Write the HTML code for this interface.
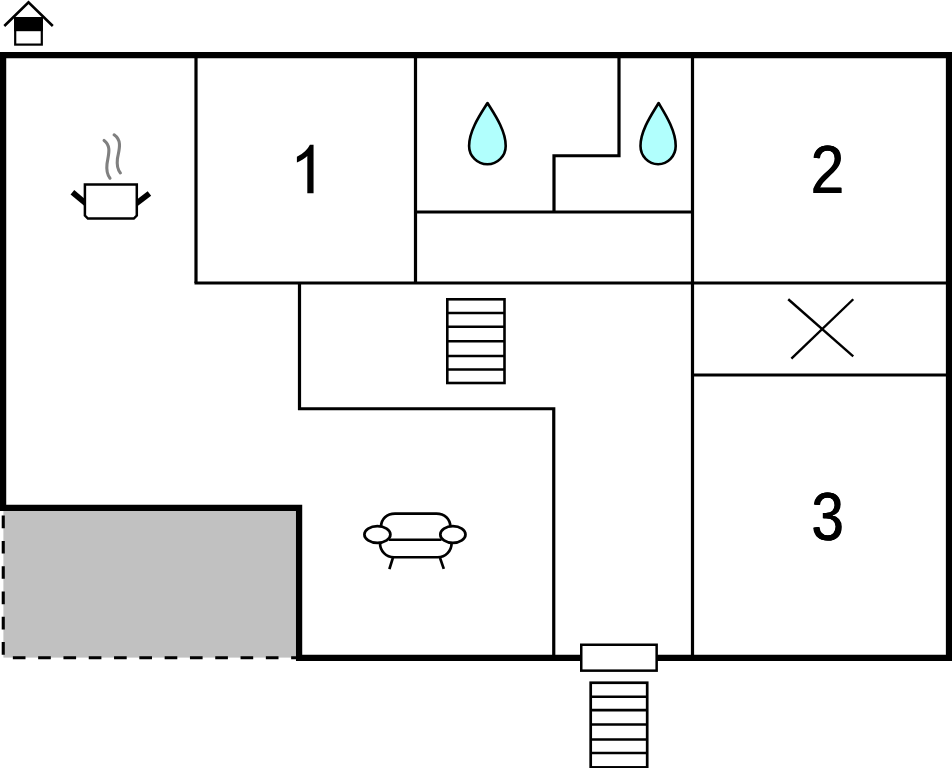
<!DOCTYPE html>
<html>
<head>
<meta charset="utf-8">
<title>Floor plan</title>
<style>
  html, body { margin: 0; padding: 0; background: #ffffff; }
  body { width: 952px; height: 768px; overflow: hidden; font-family: "Liberation Sans", sans-serif; }
  svg { display: block; position: absolute; left: 0; top: 0; }
  .num { font-family: "Liberation Sans", sans-serif; font-size: 69.6px; fill: #000; }
</style>
</head>
<body>
<svg width="952" height="768" viewBox="0 0 952 768">
  <rect x="0" y="0" width="952" height="768" fill="#ffffff"/>

  <!-- grey terrace -->
  <rect x="3.4" y="508" width="294" height="149.6" fill="#c1c1c1"/>
  <path d="M3.25 515.6 V657.8 H298" fill="none" stroke="#000" stroke-width="3.1" stroke-dasharray="12.65 12.65"/>

  <!-- inner walls -->
  <g fill="none" stroke="#000" stroke-width="3.2" stroke-linecap="butt" stroke-linejoin="miter">
    <path d="M196 56 V283"/>
    <path d="M194.5 283 H947"/>
    <path d="M415.5 56 V283"/>
    <path d="M415.5 212 H692.5"/>
    <path d="M619 56 V155.75 H554 V212"/>
    <path d="M692.5 56 V657"/>
    <path d="M692.5 375 H947"/>
    <path d="M299.5 283 V408.75 H553.75 V657"/>
  </g>

  <!-- outer wall -->
  <path d="M299.1 657.9 V507.9 H3.1 V55 H949 V657.9 Z" fill="none" stroke="#000" stroke-width="6.25" stroke-linejoin="miter"/>

  <!-- house icon -->
  <g>
    <rect x="15.2" y="18.2" width="26.6" height="26.4" fill="#fff" stroke="#000" stroke-width="2.2"/>
    <rect x="14.1" y="17.1" width="28.8" height="14.1" fill="#000"/>
    <path d="M4.3 26 L28.5 2.2 L52.8 26" fill="none" stroke="#000" stroke-width="2.6" stroke-linejoin="miter"/>
  </g>

  <!-- pot icon -->
  <g fill="none" stroke="#000">
    <path d="M72.4 192.2 L86 203.6" stroke-width="5.7" stroke-linecap="butt"/>
    <path d="M136 203.7 L149.4 193.5" stroke-width="5.7" stroke-linecap="butt"/>
    <path d="M84.9 184.6 H136.8 V215.6 L133.8 218.6 H87.9 L84.9 215.6 Z" stroke-width="2.5" fill="#fff"/>
    <path d="M104.1 140.4 C112 146 108 156 107 164 C106.3 170 107.5 175 110 178.2" stroke="#808080" stroke-width="3.1" stroke-linecap="round"/>
    <path d="M114.1 134.8 C123 141 118.5 151 117.4 159 C116.7 165 118 170 120.4 172.9" stroke="#808080" stroke-width="3.1" stroke-linecap="round"/>
  </g>

  <!-- water drops -->
  <g fill="#b1fffd" stroke="#000" stroke-width="2.6" stroke-linejoin="round">
    <path d="M487.5 103 C482 112 468.9 130 469.1 146 A18.3 18.3 0 0 0 505.7 146 C505.9 130 493 112 487.5 103 Z"/>
    <path d="M658.6 103 C653.4 112 640.3 130 640.5 146 A17.6 18.2 0 0 0 675.7 146 C675.9 130 663.9 112 658.6 103 Z"/>
  </g>

  <!-- indoor stairs -->
  <g fill="none" stroke="#000" stroke-width="2.6">
    <rect x="447.3" y="299.3" width="57.2" height="83.7" fill="#fff"/>
    <path d="M447.3 313 H504.5 M447.3 326.75 H504.5 M447.3 341.25 H504.5 M447.3 356 H504.5 M447.3 369.5 H504.5"/>
  </g>

  <!-- X mark -->
  <g fill="none" stroke="#000" stroke-width="2.4" stroke-linecap="butt">
    <path d="M788.25 299.25 L853.25 356.4"/>
    <path d="M853.25 299.25 L791.4 358.6"/>
  </g>

  <!-- sofa icon -->
  <g fill="none" stroke="#000" stroke-width="2.7" stroke-linecap="butt">
    <path d="M381 527 C381 519 387 513.6 395 513.6 H436.4 C444.4 513.6 450.4 519 450.4 527"/>
    <path d="M380 543 C380 551 386 557.25 394 557.25 H437.6 C445.6 557.25 451.6 551 451.6 543"/>
    <path d="M389 539.75 H441.5"/>
    <ellipse cx="377.4" cy="534.5" rx="13" ry="8.4" fill="#fff"/>
    <ellipse cx="452.9" cy="534.5" rx="12.6" ry="8.4" fill="#fff"/>
    <path d="M392.9 557.9 L389.4 569.1"/>
    <path d="M440 557.9 L443.8 568.9"/>
  </g>

  <!-- door -->
  <rect x="581.25" y="644.75" width="75.4" height="25.9" fill="#fff" stroke="#000" stroke-width="2.5"/>

  <!-- outdoor stairs -->
  <g fill="none" stroke="#000" stroke-width="2.7">
    <rect x="590.7" y="682.75" width="56.5" height="84.65" fill="#fff"/>
    <path d="M590.7 696.75 H647.2 M590.7 710.1 H647.2 M590.7 724.5 H647.2 M590.7 739.5 H647.2 M590.7 753 H647.2"/>
  </g>

  <!-- room numbers -->
  <path transform="translate(290.04 193.25) scale(0.03074 -0.03295)" d="M765 0 H562 V1130 Q505 1078 412.5 1023 Q307 961 223 930 V1104 Q374 1175 487 1276 Q600 1377 647 1472 H765 Z" fill="#000"/>
  <g transform="translate(827.5 193.1) scale(0.884 1)" style="font-size:67.9px">
    <text class="num" style="font-size:67.9px" x="-0.57" y="0" text-anchor="middle">2</text>
    <text class="num" style="font-size:67.9px" x="0" y="0" text-anchor="middle">2</text>
    <text class="num" style="font-size:67.9px" x="0.57" y="0" text-anchor="middle">2</text>
  </g>
  <g transform="translate(827.55 539.7) scale(0.848 1)">
    <text class="num" style="font-size:68.5px" x="-0.59" y="0" text-anchor="middle">3</text>
    <text class="num" style="font-size:68.5px" x="0" y="0" text-anchor="middle">3</text>
    <text class="num" style="font-size:68.5px" x="0.59" y="0" text-anchor="middle">3</text>
  </g>
</svg>
</body>
</html>
